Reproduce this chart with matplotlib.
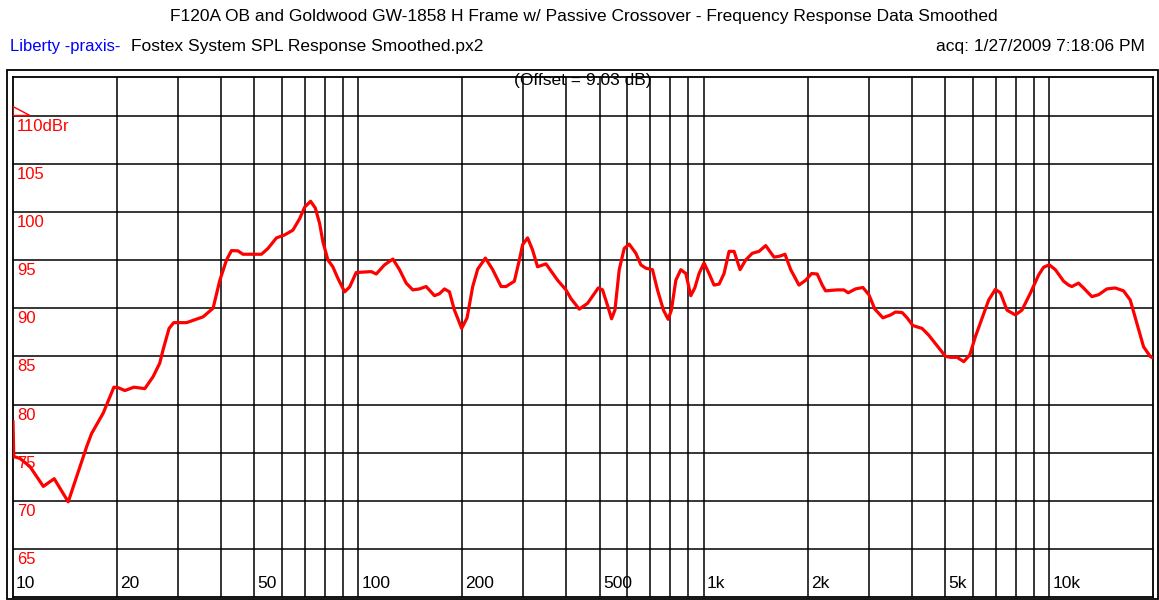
# frequency response plot, praxis style
import matplotlib
matplotlib.use("Agg")
import matplotlib.pyplot as plt
import matplotlib.patches as patches
import matplotlib.transforms as mtransforms

# smoothed SPL response (Hz, dB)
freq = [10.0, 10.05, 10.48, 11.2, 12.24, 13.16, 14.45, 15.28, 16.33, 16.89,
        18.24, 19.59, 20.16, 21.08, 22.38, 24.08, 25.45, 26.6, 27.2, 28.3,
        29.2, 31.8, 35.5, 37.95, 39.7, 41.5, 42.9, 44.8, 46.3, 52.4,
        54.7, 57.9, 61.1, 64.6, 67.6, 69.9, 72.7, 75.0, 77.2, 78.9,
        81.6, 84.3, 87.2, 91.2, 94.3, 98.5, 108.9, 112.6, 119, 125.8,
        131.5, 137.5, 143.7, 150.2, 157, 166, 171.6, 177.4, 183.4, 189.6,
        199, 206.3, 214.2, 221.4, 233.1, 244.7, 258.8, 267.5, 282.7, 292.3,
        298.8, 308.8, 319.2, 330, 349.1, 377.2, 398.8, 412.3, 435.7, 460.4,
        494.6, 508.9, 526, 540.4, 552.7, 568.8, 588, 607.8, 635.5, 657,
        679.3, 709.9, 733.9, 763.8, 788, 805.4, 829.5, 857.5, 886.6, 916.5,
        941.3, 968.5, 1001, 1035, 1070, 1107, 1144, 1183, 1223, 1273,
        1321, 1381, 1444, 1510, 1596, 1658, 1717, 1784, 1885, 1971,
        2051, 2128, 2201, 2251, 2432, 2543, 2617, 2748, 2886, 3004,
        3126, 3298, 3471, 3587, 3749, 3876, 4026, 4282, 4477, 4733,
        5005, 5173, 5408, 5653, 5885, 6110, 6386, 6675, 6980, 7216,
        7541, 7974, 8332, 8811, 9312, 9627, 10000, 10410, 11000, 11370,
        11620, 12150, 12560, 13280, 13890, 14680, 15520, 16400, 17150, 17920,
        18740, 19590, 19800]
spl = [78.2, 74.6, 74.4, 73.55, 71.5, 72.3, 69.9, 72.5, 75.6, 77.0,
       79.1, 81.8, 81.75, 81.45, 81.8, 81.65, 82.9, 84.3, 85.7, 87.9,
       88.5, 88.5, 89.1, 90.0, 92.9, 95.0, 95.98, 95.95, 95.6, 95.6,
       96.2, 97.3, 97.6, 98.1, 99.3, 100.5, 101.1, 100.4, 98.8, 96.9,
       95.0, 94.3, 93.1, 91.7, 92.2, 93.7, 93.8, 93.55, 94.5, 95.1,
       94.0, 92.6, 91.9, 92.0, 92.25, 91.3, 91.5, 92.0, 91.7, 89.8,
       87.9, 89.0, 92.25, 94.05, 95.2, 94.0, 92.25, 92.25, 92.8, 95.0,
       96.6, 97.3, 96.05, 94.3, 94.6, 92.9, 91.9, 91.0, 89.9, 90.5,
       92.1, 91.9, 90.3, 88.9, 89.8, 94.0, 96.2, 96.65, 95.7, 94.5,
       94.15, 94.0, 91.9, 89.8, 88.85, 89.8, 92.9, 94.0, 93.6, 91.3,
       92.1, 93.6, 94.7, 93.6, 92.4, 92.5, 93.6, 95.9, 95.9, 94.0,
       95.0, 95.7, 95.9, 96.5, 95.3, 95.4, 95.6, 94.0, 92.4, 92.9,
       93.6, 93.55, 92.4, 91.8, 91.9, 91.9, 91.6, 92.0, 92.15, 91.4,
       89.9, 89.0, 89.3, 89.6, 89.55, 89.0, 88.2, 87.9, 87.2, 86.1,
       85.0, 84.9, 84.9, 84.45, 85.15, 87.05, 88.95, 90.85, 91.95, 91.6,
       89.8, 89.3, 89.8, 91.55, 93.45, 94.25, 94.5, 94.0, 92.8, 92.4,
       92.25, 92.6, 92.1, 91.2, 91.4, 92.0, 92.1, 91.8, 90.85, 88.45,
       86.0, 85.0, 84.9]

xtick_vals = [10, 20, 50, 100, 200, 500, 1000, 2000, 5000, 10000]
xtick_labels = ["10", "20", "50", "100", "200", "500", "1k", "2k", "5k", "10k"]
ytick_vals = [110, 105, 100, 95, 90, 85, 80, 75, 70, 65]
ytick_labels = ["110dBr", "105", "100", "95", "90", "85", "80", "75", "70", "65"]
ref_level = 110

W, H = 1159, 600
plt.rcParams["font.family"] = ["Liberation Sans", "DejaVu Sans"]
fs = 12.5

fig = plt.figure(figsize=(W / 100, H / 100), dpi=100)
ax = fig.add_axes([13 / W, 3.3 / H, 1140.3 / W, 519.7 / H])
ax.set_xscale("log")
ax.set_xlim(10, 20000)
ax.set_ylim(60.05, 114.0)

# grid
grid_f = [m * 10 ** d for d in range(1, 5) for m in range(1, 10)]
for f in grid_f:
    if 10 < f < 20000:
        ax.axvline(f, color="black", lw=1.1, zorder=1)
for v in ytick_vals:
    ax.axhline(v, color="black", lw=1.1, zorder=1)

ax.plot(freq, spl, color="#ff0000", lw=2.3, zorder=3, solid_joinstyle="round")

# reference level marker
tri = patches.Polygon([(10, ref_level), (10, ref_level + 0.93), (11.2, ref_level)],
                      closed=True, fill=False, edgecolor="#ff0000", lw=1.0, zorder=4)
ax.add_patch(tri)

ax.set_xticks([])
ax.set_yticks([])
ax.minorticks_off()
for s in ax.spines.values():
    s.set_linewidth(1.3)

xt = mtransforms.offset_copy(ax.get_xaxis_transform(), fig=fig, x=3, y=6, units="dots")
for v, lab in zip(xtick_vals, xtick_labels):
    ax.text(v, 0, lab, transform=xt, fontsize=fs, color="black", ha="left", va="bottom")
yt = mtransforms.offset_copy(ax.get_yaxis_transform(), fig=fig, x=4, y=-3, units="dots")
for v, lab in zip(ytick_vals, ytick_labels):
    ax.text(0, v, lab, transform=yt, fontsize=fs - 0.5, color="#ff0000", ha="left", va="top")

ot = mtransforms.offset_copy(ax.transAxes, fig=fig, x=0, y=-3, units="dots")
ax.text(0.5, 1.0, "(Offset = 9.03 dB)", transform=ot, fontsize=fs,
        ha="center", va="center")

# outer frame
fig.patches.append(patches.Rectangle((7 / W, 1 / H), 1151 / W, 529 / H, fill=False,
                                     edgecolor="black", lw=1.3, transform=fig.transFigure))

fig.text(584 / W, 1 - 17 / H, "F120A OB and Goldwood GW-1858 H Frame w/ Passive Crossover - "
         "Frequency Response Data Smoothed", fontsize=fs, ha="center", va="center")
fig.text(10 / W, 1 - 46 / H, "Liberty -praxis-", fontsize=fs - 0.5, color="#0000ff",
         ha="left", va="center")
fig.text(131 / W, 1 - 46 / H, "Fostex System SPL Response Smoothed.px2", fontsize=fs,
         ha="left", va="center")
fig.text(1145 / W, 1 - 46 / H, "acq: 1/27/2009 7:18:06 PM", fontsize=fs,
         ha="right", va="center")

fig.savefig("out.png", dpi=100)
